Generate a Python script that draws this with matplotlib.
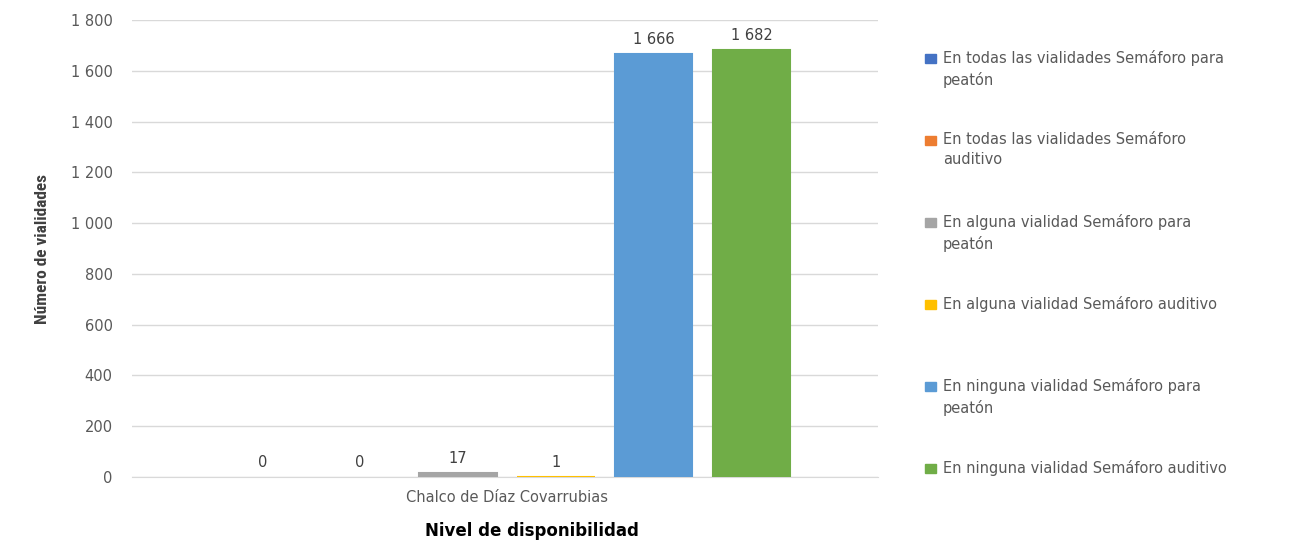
import matplotlib as mpl
mpl.use('Agg')
import matplotlib.pyplot as plt
from matplotlib.patches import Rectangle
from matplotlib.ticker import FuncFormatter

category = 'Chalco de Díaz Covarrubias'
series = ['En todas las vialidades Semáforo para\npeatón',
          'En todas las vialidades Semáforo\nauditivo',
          'En alguna vialidad Semáforo para\npeatón',
          'En alguna vialidad Semáforo auditivo',
          'En ninguna vialidad Semáforo para\npeatón',
          'En ninguna vialidad Semáforo auditivo']
values = [0, 0, 17, 1, 1666, 1682]
colors = ['#4472C4', '#ED7D31', '#A5A5A5', '#FFC000', '#5B9BD5', '#70AD47']

def fmt(v):
    return '{:,}'.format(int(v)).replace(',', ' ')

fig = plt.figure(figsize=(13.14, 5.40), dpi=100)
ax = fig.add_axes([132/1314, 1-477/540, (878-132)/1314, (477-20)/540])

xs = list(range(len(values)))
lws = [0 if v == 0 else 1.5 for v in values]
ax.bar(xs, values, width=0.79, color=colors, edgecolor=colors, linewidth=lws, zorder=3)
for x, v in zip(xs, values):
    ax.annotate(fmt(v), (x, v), xytext=(0, 5), textcoords='offset points',
                ha='center', va='bottom', fontsize=10.5, color='#404040')

ax.set_xlim(-1.33, 6.29)
ax.set_ylim(0, 1800)
ax.set_yticks(range(0, 1801, 200))
ax.yaxis.set_major_formatter(FuncFormatter(lambda v, p: fmt(v)))
ax.set_xticks([2.5])
ax.set_xticklabels([category])
ax.tick_params(axis='both', length=0, labelsize=10.5, colors='#595959')
ax.tick_params(axis='y', pad=14)
ax.tick_params(axis='x', pad=9)
ax.grid(axis='y', color='#D9D9D9', linewidth=1, zorder=0)
for s in ['top', 'right', 'left']:
    ax.spines[s].set_visible(False)
ax.spines['bottom'].set_color('#D9D9D9')

ax.set_ylabel('Número de vialidades', fontsize=12.5, fontweight='bold', color='#404040',
              family=['Liberation Sans Narrow', 'Roboto Condensed', 'Roboto'],
              fontstretch='condensed', labelpad=15)
fig.text(532/1314, 1-531/540, 'Nivel de disponibilidad', ha='center', va='center',
         fontsize=12, fontweight='bold', color='black')

# legend on the right
y0 = 58
for i, (lab, c) in enumerate(zip(series, colors)):
    y = y0 + i * 82
    fig.patches.append(Rectangle((925/1314, 1-(y+5)/540), 11/1314, 9/540,
                                 transform=fig.transFigure, color=c))
    fig.text(943/1314, 1-(y-8)/540, lab, ha='left', va='top', fontsize=10.5,
             color='#595959', linespacing=1.45)

plt.savefig('out.png', dpi=100)
plt.close()
